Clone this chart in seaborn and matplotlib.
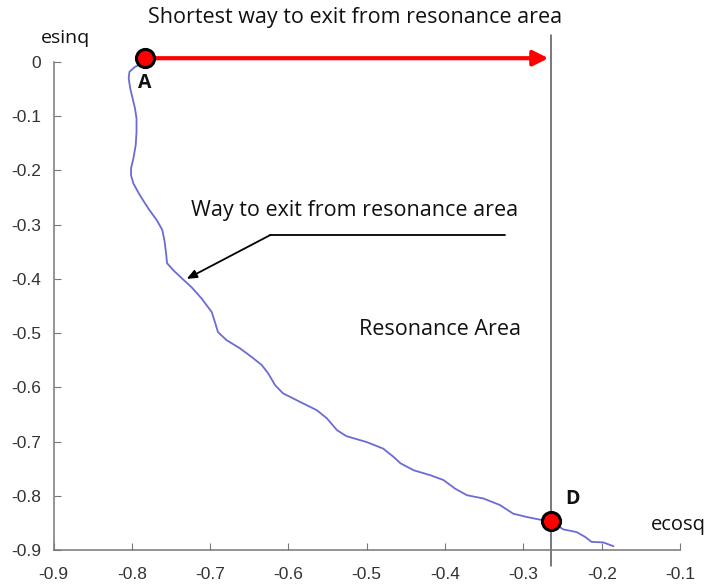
import matplotlib
matplotlib.use("Agg")
import matplotlib.pyplot as plt
import seaborn as sns
import pandas as pd

# ---- data ----
curve_x = [-0.785, -0.796, -0.803, -0.804, -0.802, -0.799, -0.796, -0.794, -0.794, -0.795,
           -0.798, -0.801, -0.801, -0.798, -0.790, -0.779, -0.768, -0.761, -0.758, -0.756,
           -0.755, -0.747, -0.736, -0.724, -0.711, -0.698, -0.694, -0.690, -0.679, -0.662,
           -0.647, -0.634, -0.626, -0.617, -0.607, -0.585, -0.564, -0.551, -0.538, -0.526,
           -0.500, -0.479, -0.466, -0.457, -0.440, -0.419, -0.402, -0.387, -0.372, -0.351,
           -0.330, -0.313, -0.296, -0.279, -0.264, -0.249, -0.232, -0.221, -0.213, -0.198,
           -0.185]
curve_y = [-0.002, -0.009, -0.018, -0.030, -0.049, -0.067, -0.085, -0.104, -0.129, -0.153,
           -0.178, -0.196, -0.209, -0.224, -0.245, -0.270, -0.292, -0.310, -0.332, -0.356,
           -0.371, -0.384, -0.399, -0.415, -0.436, -0.461, -0.479, -0.498, -0.513, -0.528,
           -0.544, -0.559, -0.574, -0.596, -0.611, -0.627, -0.642, -0.657, -0.679, -0.690,
           -0.701, -0.713, -0.728, -0.740, -0.753, -0.762, -0.771, -0.787, -0.799, -0.805,
           -0.817, -0.833, -0.839, -0.844, -0.848, -0.862, -0.867, -0.876, -0.885, -0.886,
           -0.893]
point_labels = ["A", "D"]
point_x = [-0.783, -0.265]
point_y = [0.007, -0.847]
boundary_x = -0.265
x_ticks = [-0.9, -0.8, -0.7, -0.6, -0.5, -0.4, -0.3, -0.2, -0.1]
y_ticks = [0, -0.1, -0.2, -0.3, -0.4, -0.5, -0.6, -0.7, -0.8, -0.9]

sns.set_style("ticks")
plt.rcParams['font.family'] = ['Open Sans', 'DejaVu Sans']

fig = plt.figure(figsize=(7.11, 5.85), dpi=100)
ax = fig.add_axes([53.5 / 711, 1 - 550 / 585, 626.5 / 711, 488 / 585])

df = pd.DataFrame({"x": curve_x, "y": curve_y})
sns.lineplot(data=df, x="x", y="y", sort=False, estimator=None, ax=ax, color="#6b6bd6",
             lw=1.3, solid_joinstyle="round", solid_capstyle="round")

# boundary of resonance area
ax.plot([boundary_x, boundary_x], [0.05, -0.93], color="#555555", lw=1.1, clip_on=False, zorder=2)

# shortest way arrow
ax.annotate("", xy=(boundary_x - 0.003, point_y[0]), xytext=(point_x[0], point_y[0]),
            arrowprops=dict(arrowstyle="-|>,head_length=0.9,head_width=0.45", color="#ff0000",
                            lw=3, shrinkA=0, shrinkB=0), annotation_clip=False, zorder=3)

sns.scatterplot(x=point_x, y=point_y, ax=ax, color="#ff0000", edgecolor="black", s=170,
                linewidth=2.2, zorder=5, clip_on=False, legend=False)

ax.text(point_x[0], -0.038, point_labels[0], ha="center", va="center", fontsize=14,
        fontweight="bold", color="#111111")
ax.text(-0.237, -0.806, point_labels[1], ha="center", va="center", fontsize=14,
        fontweight="bold", color="#111111")

# way annotation
ax.plot([-0.323, -0.623], [-0.319, -0.319], color="black", lw=1.3)
ax.annotate("", xy=(-0.730, -0.400), xytext=(-0.623, -0.319),
            arrowprops=dict(arrowstyle="-|>,head_length=0.6,head_width=0.25", color="black",
                            lw=1.3, shrinkA=0, shrinkB=0))
ax.text(-0.725, -0.274, "Way to exit from resonance area", ha="left", va="center",
        fontsize=15.5, color="#111111")
ax.text(-0.51, -0.493, "Resonance Area", ha="left", va="center", fontsize=15.5, color="#111111")

ax.set_xlim(-0.9, -0.1)
ax.set_ylim(-0.9, 0)
ax.set_xticks(x_ticks)
ax.set_yticks(y_ticks)
ax.set_xticklabels([f"{t:g}" for t in x_ticks])
ax.set_yticklabels([f"{t:g}" for t in y_ticks])
ax.set_xlabel("")
ax.set_ylabel("")
for s in ["top", "right"]:
    ax.spines[s].set_visible(False)
for s in ["left", "bottom"]:
    ax.spines[s].set_color("#777777")
    ax.spines[s].set_linewidth(1.1)
ax.tick_params(direction="in", length=5, color="#777777", labelsize=12.5,
               labelcolor="#333333")
ax.tick_params(axis="x", pad=12)
ax.tick_params(axis="y", pad=9)
for lab in ax.get_xticklabels() + ax.get_yticklabels():
    lab.set_family(['Liberation Sans', 'DejaVu Sans'])

fig.text(355 / 711, 1 - 18 / 585, "Shortest way to exit from resonance area", ha="center",
         va="center", fontsize=15.5, color="#111111")
fig.text(66 / 711, 1 - 38 / 585, "esinq", ha="center", va="center", fontsize=14, color="#111111")
fig.text(678 / 711, 1 - 525 / 585, "ecosq", ha="center", va="center", fontsize=14.5, color="#111111")

fig.savefig("out.png", dpi=100)
